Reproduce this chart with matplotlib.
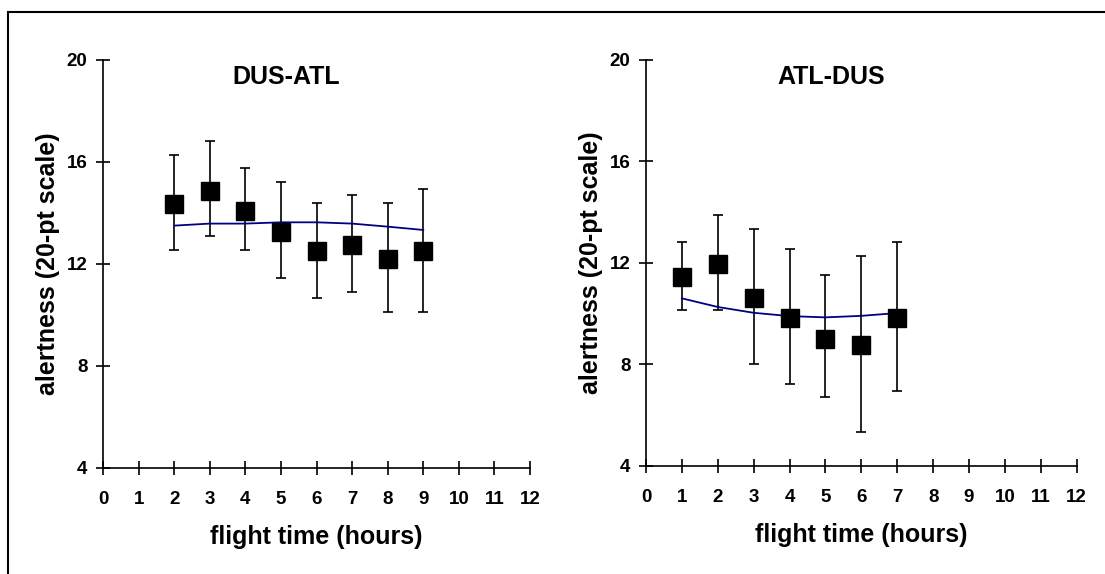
import matplotlib
matplotlib.use("Agg")
import matplotlib.pyplot as plt
from matplotlib.patches import Rectangle

plt.rcParams['font.family'] = ['Liberation Sans', 'DejaVu Sans']
plt.rcParams['font.weight'] = 'bold'

# DUS-ATL data
dus_hours = [2, 3, 4, 5, 6, 7, 8, 9]
dus_mean = [14.34, 14.87, 14.07, 13.26, 12.50, 12.74, 12.19, 12.50]
dus_high = [16.28, 16.83, 15.76, 15.21, 14.39, 14.69, 14.39, 14.92]
dus_low = [12.54, 13.09, 12.54, 11.43, 10.66, 10.91, 10.12, 10.12]
dus_fit = [13.50, 13.58, 13.58, 13.63, 13.63, 13.58, 13.46, 13.33]

# ATL-DUS data
atl_hours = [1, 2, 3, 4, 5, 6, 7]
atl_mean = [11.46, 11.94, 10.63, 9.84, 9.01, 8.77, 9.84]
atl_high = [12.81, 13.90, 13.35, 12.54, 11.51, 12.28, 12.81]
atl_low = [10.15, 10.15, 8.01, 7.24, 6.70, 5.33, 6.94]
atl_fit = [10.60, 10.26, 10.03, 9.90, 9.85, 9.91, 10.02]

x_ticks = list(range(0, 13))
y_ticks = [4, 8, 12, 16, 20]

W, H = 1105, 574
fig = plt.figure(figsize=(W / 100, H / 100), dpi=100)

# outer frame (only left and top edges show)
fig.add_artist(Rectangle((8 / W, -0.1), 1.2, 1 - 12 / H + 0.1,
                         transform=fig.transFigure, fill=False,
                         edgecolor='black', linewidth=1.5))

panels = [
    ("DUS-ATL", dus_hours, dus_mean, dus_low, dus_high, dus_fit,
     [103 / W, (H - 467.7) / H, 427 / W, 407.7 / H]),
    ("ATL-DUS", atl_hours, atl_mean, atl_low, atl_high, atl_fit,
     [646 / W, (H - 465.7) / H, 430.7 / W, 405.7 / H]),
]

for title, hrs, mean, low, high, fit, rect in panels:
    ax = fig.add_axes(rect)
    yerr = [[m - l for m, l in zip(mean, low)], [h - m for m, h in zip(mean, high)]]
    ax.errorbar(hrs, mean, yerr=yerr, fmt='none', ecolor='black',
                elinewidth=1.2, capsize=3.4, capthick=1.2, zorder=2)
    ax.plot(hrs, fit, color='#000080', linewidth=1.3, zorder=3)
    ax.plot(hrs, mean, linestyle='none', marker='s', markersize=13.5,
            color='black', zorder=4)

    ax.set_xlim(0, 12)
    ax.set_ylim(4, 20)
    ax.set_xticks(x_ticks)
    ax.set_yticks(y_ticks)
    ax.spines['top'].set_visible(False)
    ax.spines['right'].set_visible(False)
    for s in ['left', 'bottom']:
        ax.spines[s].set_linewidth(1.2)
    ax.tick_params(axis='both', direction='inout', length=9.4, width=1.2,
                   labelsize=13.5)
    ax.tick_params(axis='y', pad=6.5)
    ax.tick_params(axis='x', pad=12)
    for lbl in ax.get_xticklabels() + ax.get_yticklabels():
        lbl.set_fontweight('bold')
    ax.set_xlabel("flight time (hours)", fontsize=18, fontweight='bold', labelpad=12)
    ax.set_ylabel("alertness (20-pt scale)", fontsize=18, fontweight='bold', labelpad=5)
    ax.text(0.43, 0.958, title, transform=ax.transAxes, ha='center', va='center',
            fontsize=18, fontweight='bold')

fig.savefig("out.png", dpi=100)
